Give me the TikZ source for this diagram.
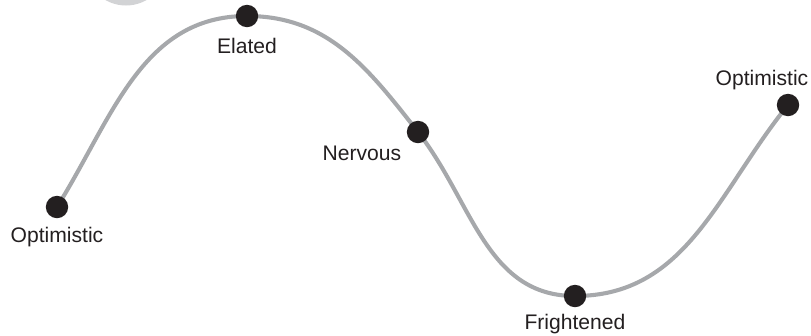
\documentclass[tikz,border=0pt]{standalone}
\usepackage{fontspec}
\setmainfont{Liberation Sans}
\usetikzlibrary{positioning,backgrounds}

\definecolor{wave}{RGB}{166,168,171}
\definecolor{dotc}{RGB}{35,31,32}
\definecolor{blob}{RGB}{210,211,213}

\tikzset{
  mood/.style={circle, fill=dotc, inner sep=0pt, minimum size=0.56cm},
  moodlbl/.style={inner sep=0pt, font=\fontsize{15}{18}\selectfont, text=dotc},
}

\begin{document}
\begin{tikzpicture}[x=0.025cm, y=-0.025cm]

\useasboundingbox (0,0) rectangle (811,336);
\clip (0,0) rectangle (811,336);

% Faded disc at the top edge
\fill[blob] (126,-36) circle (41.5);

% Mood points
\node[mood] (opta)  at (57,207)  {};
\node[mood] (elat)  at (247,16)  {};
\node[mood] (nerv)  at (418,132) {};
\node[mood] (frig)  at (575,296) {};
\node[mood] (optb)  at (788,105) {};

% Labels
\node[moodlbl, below=0.2cm of opta] (optalbl) {Optimistic};
\node[moodlbl, below=0.25cm of elat] (elatlbl) {Elated};
\node[moodlbl, below=0.05cm of nerv, xshift=-1.4cm] (nervlbl) {Nervous};
\node[moodlbl, below=0.15cm of frig] (friglbl) {Frightened};
\node[moodlbl, above=0.08cm of optb, xshift=-0.65cm] (optblbl) {Optimistic};

% The wave
\begin{scope}[on background layer]
\draw[wave, line width=2.9pt]
  (opta.center) to[out=58, in=180] (elat.center)
  to[out=0, in=128] (nerv.center)
  to[out=-52, in=180] (frig.center)
  to[out=0, in=231] (optb.center);
\end{scope}

\end{tikzpicture}
\end{document}
